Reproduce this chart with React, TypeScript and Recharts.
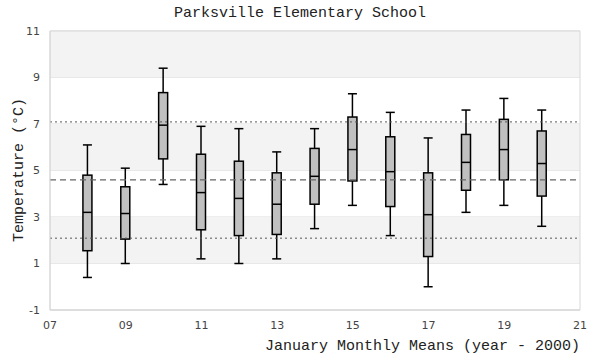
import React from 'react';
import { ComposedChart, Bar, XAxis, YAxis, CartesianGrid, ReferenceArea, ReferenceLine } from 'recharts';

const years = [8, 9, 10, 11, 12, 13, 14, 15, 16, 17, 18, 19, 20];
const maxVals = [6.1, 5.1, 9.4, 6.9, 6.8, 5.8, 6.8, 8.3, 7.5, 6.4, 7.6, 8.1, 7.6];
const q3Vals = [4.8, 4.3, 8.35, 5.7, 5.4, 4.9, 5.95, 7.3, 6.45, 4.9, 6.55, 7.2, 6.7];
const medVals = [3.2, 3.15, 6.95, 4.05, 3.8, 3.55, 4.75, 5.9, 4.95, 3.1, 5.35, 5.9, 5.3];
const q1Vals = [1.55, 2.05, 5.5, 2.45, 2.2, 2.25, 3.55, 4.55, 3.45, 1.3, 4.15, 4.6, 3.9];
const minVals = [0.4, 1.0, 4.4, 1.2, 1.0, 1.2, 2.5, 3.5, 2.2, 0.0, 3.2, 3.5, 2.6];

const xTicks = [7, 9, 11, 13, 15, 17, 19, 21];
const yTicks = [-1, 1, 3, 5, 7, 9, 11];
const bands = [[1, 3], [5, 7], [9, 11]];
const meanValue = 4.6;
const sdLines = [7.09, 2.09];

const data = years.map((y, i) => ({
  year: y,
  range: [minVals[i], maxVals[i]],
  min: minVals[i],
  q1: q1Vals[i],
  med: medVals[i],
  q3: q3Vals[i],
  max: maxVals[i],
}));

const BoxShape = (props: any) => {
  const { x, y, width, height, payload } = props;
  if (height == null || !payload) return null;
  const span = payload.max - payload.min;
  const ppu = span > 0 ? height / span : 0;
  const toY = (v: number) => y + (payload.max - v) * ppu;
  const cx = x + width / 2;
  const bw = 9;
  const cw = 9;
  const yMax = toY(payload.max);
  const yMin = toY(payload.min);
  const yQ3 = toY(payload.q3);
  const yQ1 = toY(payload.q1);
  const yMed = toY(payload.med);
  return (
    <g>
      <line x1={cx} x2={cx} y1={yMax} y2={yQ3} stroke="#000" strokeWidth={1.5} />
      <line x1={cx} x2={cx} y1={yQ1} y2={yMin} stroke="#000" strokeWidth={1.5} />
      <line x1={cx - cw / 2} x2={cx + cw / 2} y1={yMax} y2={yMax} stroke="#000" strokeWidth={1.5} />
      <line x1={cx - cw / 2} x2={cx + cw / 2} y1={yMin} y2={yMin} stroke="#000" strokeWidth={1.5} />
      <rect x={cx - bw / 2} y={yQ3} width={bw} height={yQ1 - yQ3} fill="#c0c0c0" stroke="#000" strokeWidth={1.5} />
      <line x1={cx - bw / 2} x2={cx + bw / 2} y1={yMed} y2={yMed} stroke="#000" strokeWidth={1.5} />
    </g>
  );
};

const mono = '"Liberation Mono", "DejaVu Sans Mono", monospace';
const tickStyle = { fontSize: 11, fill: '#444', fontFamily: '"DejaVu Sans", sans-serif' };

export default function App() {
  return (
    <div style={{ position: 'absolute', left: 0, top: 0, width: 600, height: 360, background: '#fff' }}>
      <div style={{ position: 'absolute', left: 0, top: 5, width: 600, textAlign: 'center', fontFamily: mono, fontSize: 15, color: '#222' }}>
        Parksville Elementary School
      </div>
      <div style={{ position: 'absolute', right: 20, top: 338, fontFamily: mono, fontSize: 15, color: '#222', whiteSpace: 'nowrap' }}>
        January Monthly Means (year - 2000)
      </div>
      <div style={{ position: 'absolute', left: 19, top: 170, width: 0, height: 0 }}>
        <div style={{ position: 'absolute', left: 0, top: 0, transform: 'translate(-50%, -50%) rotate(-90deg)', fontFamily: mono, fontSize: 15, color: '#222', whiteSpace: 'nowrap' }}>
          Temperature (°C)
        </div>
      </div>
      <ComposedChart width={600} height={360} data={data} margin={{ top: 31, right: 20, bottom: 20, left: 0 }}>
        {bands.map((b, i) => (
          <ReferenceArea key={i} x1={7} x2={21} y1={b[0]} y2={b[1]} fill="#f3f3f3" fillOpacity={1} stroke="none" ifOverflow="hidden" />
        ))}
        <CartesianGrid vertical={false} stroke="#dcdcdc" strokeDasharray="" />
        <ReferenceArea x1={7} x2={21} y1={-1} y2={11} fill="none" stroke="#d8d8d8" strokeWidth={1} />
        <XAxis
          dataKey="year"
          type="number"
          domain={[7, 21]}
          ticks={xTicks}
          tickFormatter={(v: number) => String(v).padStart(2, '0')}
          tick={tickStyle}
          tickLine={false}
          axisLine={{ stroke: '#d8d8d8' }}
          tickMargin={5}
          height={30}
          allowDataOverflow
        />
        <YAxis
          type="number"
          domain={[-1, 11]}
          ticks={yTicks}
          tick={tickStyle}
          tickLine={false}
          axisLine={{ stroke: '#d8d8d8' }}
          tickMargin={4}
          width={50}
          allowDataOverflow
        />
        <ReferenceLine y={meanValue} stroke="#666" strokeDasharray="6 4" strokeWidth={1.2} />
        {sdLines.map((v, i) => (
          <ReferenceLine key={i} y={v} stroke="#555" strokeDasharray="2 3" strokeWidth={1} />
        ))}
        <Bar dataKey="range" barSize={11} shape={<BoxShape />} isAnimationActive={false} />
      </ComposedChart>
    </div>
  );
}
